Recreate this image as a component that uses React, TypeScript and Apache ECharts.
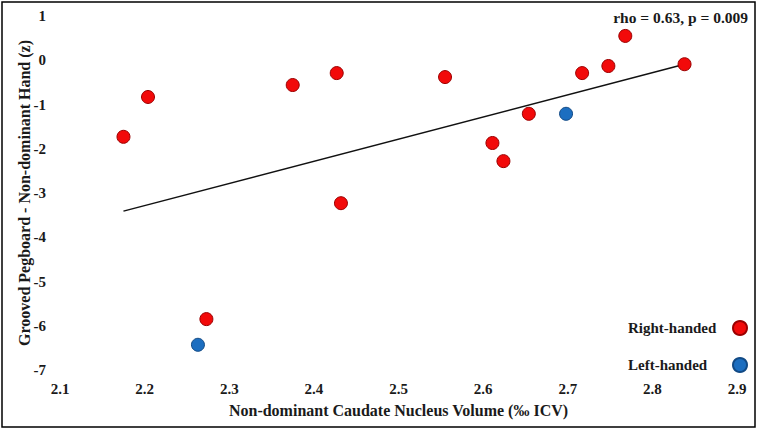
import React, { useEffect, useRef } from "react";
import * as echarts from "echarts";

const rightX = [2.175, 2.204, 2.273, 2.375, 2.427, 2.432, 2.555, 2.611, 2.624, 2.654, 2.717, 2.748, 2.768, 2.838];
const rightY = [-1.73, -0.83, -5.85, -0.56, -0.29, -3.23, -0.38, -1.87, -2.28, -1.21, -0.29, -0.13, 0.55, -0.09];
const leftX = [2.263, 2.698];
const leftY = [-6.43, -1.21];
const fitX = [2.175, 2.838];
const fitY = [-3.41, -0.09];
const statText = "rho = 0.63, p = 0.009";
const xTitle = "Non-dominant Caudate Nucleus Volume (‰ ICV)";
const yTitle = "Grooved Pegboard - Non-dominant Hand (z)";

const FONT = "'Liberation Serif', 'Times New Roman', serif";

export default function App() {
  const ref = useRef<HTMLDivElement>(null);
  useEffect(() => {
    document.body.style.margin = "0";
    const chart = echarts.init(ref.current!, null, { renderer: "svg" });
    const labelStyle = { fontFamily: FONT, fontWeight: "bold" as const, fontSize: 15, color: "#1a1a1a" };
    const titleStyle = { ...labelStyle, fontSize: 16 };
    chart.setOption({
      animation: false,
      backgroundColor: "#ffffff",
      grid: { left: 60, right: 23, top: 16, bottom: 60 },
      xAxis: {
        type: "value",
        min: 2.1,
        max: 2.9,
        interval: 0.1,
        name: xTitle,
        nameLocation: "middle",
        nameGap: 32,
        nameTextStyle: { ...titleStyle },
        axisLine: { show: false },
        axisTick: { show: false },
        splitLine: { show: false },
        axisLabel: { ...labelStyle, margin: 11, formatter: (v: number) => v.toFixed(1) },
      },
      yAxis: {
        type: "value",
        min: -7,
        max: 1,
        interval: 1,
        name: yTitle,
        nameLocation: "middle",
        nameGap: 28,
        nameMoveOverlap: false,
        nameTextStyle: { ...titleStyle },
        axisLine: { show: false },
        axisTick: { show: false },
        splitLine: { show: false },
        axisLabel: { ...labelStyle, margin: 14 },
      },
      legend: {
        orient: "vertical",
        left: 623,
        top: 315,
        align: "right",
        itemWidth: 14,
        itemHeight: 14,
        itemGap: 21,
        icon: "circle",
        data: ["Right-handed", "Left-handed"],
        formatter: (name: string) => `{a|${name}}`,
        textStyle: {
          ...labelStyle,
          rich: { a: { ...labelStyle, width: 100, align: "left" } },
        },
      },
      graphic: [
        {
          type: "rect",
          shape: { x: 2, y: 2, width: 753, height: 425 },
          style: { fill: "none", stroke: "#000", lineWidth: 1.5 },
          silent: true,
        },
        {
          type: "text",
          right: 12,
          top: 9,
          style: { text: statText, font: `bold 15.5px ${FONT}`, fill: "#1a1a1a" },
        },
      ],
      series: [
        {
          name: "fit",
          type: "line",
          data: fitX.map((x, i) => [x, fitY[i]]),
          symbol: "none",
          lineStyle: { color: "#111", width: 1.5 },
          silent: true,
          z: 1,
        },
        {
          name: "Right-handed",
          type: "scatter",
          symbolSize: 13,
          data: rightX.map((x, i) => [x, rightY[i]]),
          itemStyle: { color: "#F20A0A", borderColor: "#9A0000", borderWidth: 1, opacity: 1 },
          z: 3,
        },
        {
          name: "Left-handed",
          type: "scatter",
          symbolSize: 13,
          data: leftX.map((x, i) => [x, leftY[i]]),
          itemStyle: { color: "#1C6EC0", borderColor: "#124A85", borderWidth: 1, opacity: 1 },
          z: 3,
        },
      ],
    });
    return () => chart.dispose();
  }, []);
  return <div ref={ref} style={{ width: 760, height: 430 }} />;
}
